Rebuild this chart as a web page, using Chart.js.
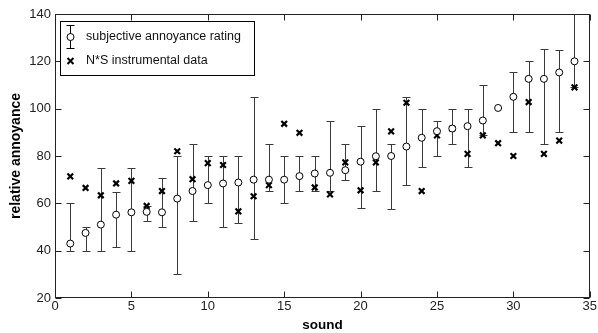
<!DOCTYPE html>
<html>
<head>
<meta charset="utf-8">
<script src="https://cdn.jsdelivr.net/npm/chart.js@4/dist/chart.umd.min.js"></script>
<style>
  html, body { margin: 0; padding: 0; background: #fff; }
  #wrap { width: 598px; height: 333px; }
</style>
</head>
<body>
<div id="wrap"><canvas id="annoyChart"></canvas></div>
<script>
// data
const sounds = [1, 2, 3, 4, 5, 6, 7, 8, 9, 10, 11, 12, 13, 14, 15, 16, 17, 18, 19, 20, 21, 22, 23, 24, 25, 26, 27, 28, 29, 30, 31, 32, 33, 34];
const rating = [43, 47.5, 51, 55.2, 56.2, 56.4, 56.2, 62, 65.2, 67.7, 68.4, 68.8, 70, 70, 70, 71.5, 72.6, 72.9, 74, 77.6, 79.9, 80, 84, 87.7, 90.5, 91.6, 92.6, 95, 100.3, 105, 112.6, 112.6, 115.3, 120];
const ratingLow = [40, 40, 40, 41.4, 40, 52.5, 50, 30, 52.5, 60, 50, 51.5, 45, 65.2, 60, 65.2, 65.2, 65.2, 70, 58.2, 65.2, 57.4, 67.8, 75.2, 80, 85.1, 75.2, 88.7, 100.3, 90.1, 90, 85.1, 90, 109];
const ratingHigh = [60, 50, 75, 65, 75, 59, 70.5, 80, 85.1, 80, 80, 80, 105, 85.1, 80, 80, 80, 95, 85.1, 92.5, 100, 85.1, 105, 100, 95, 100, 100, 110, 100.3, 115.3, 120, 125.1, 125, 145];
const nsData = [71.4, 66.5, 63.4, 68.4, 69.5, 58.9, 65.2, 82, 70.2, 77, 76.2, 56.6, 63, 67.7, 93.6, 89.8, 66.7, 63.8, 77.3, 65.5, 77.3, 90.4, 102.5, 65.2, 88.7, 91.6, 80.9, 88.7, 85.4, 80, 102.8, 80.9, 86.5, 109];
const xTicks = [0, 5, 10, 15, 20, 25, 30, 35];
const yTicks = [20, 40, 60, 80, 100, 120, 140];

const ratingPoints = sounds.map((s, i) => ({ x: s, y: rating[i], lo: ratingLow[i], hi: ratingHigh[i] }));
const nsPoints = sounds.map((s, i) => ({ x: s, y: nsData[i] }));

const font = "Arial, 'Liberation Sans', sans-serif";

// error bars, drawn under the markers
const errorBars = {
  id: 'errorBars',
  beforeDatasetsDraw(chart) {
    const ctx = chart.ctx, xs = chart.scales.x, ys = chart.scales.y, a = chart.chartArea;
    ctx.save();
    ctx.beginPath();
    ctx.rect(a.left, a.top, a.right - a.left, a.bottom - a.top);
    ctx.clip();
    ctx.strokeStyle = '#3a3a3a';
    ctx.lineWidth = 1;
    ratingPoints.forEach(p => {
      if (p.hi === p.lo) return;
      const px = Math.round(xs.getPixelForValue(p.x)) + 0.5;
      const top = Math.round(ys.getPixelForValue(p.hi)) + 0.5;
      const bot = Math.round(ys.getPixelForValue(p.lo)) + 0.5;
      ctx.beginPath();
      ctx.moveTo(px, top); ctx.lineTo(px, bot);
      ctx.moveTo(px - 4, top); ctx.lineTo(px + 4, top);
      ctx.moveTo(px - 4, bot); ctx.lineTo(px + 4, bot);
      ctx.stroke();
    });
    ctx.restore();
  }
};

// box, inward ticks and the legend
const frame = {
  id: 'frame',
  afterDraw(chart) {
    const ctx = chart.ctx, xs = chart.scales.x, ys = chart.scales.y, a = chart.chartArea;
    ctx.save();
    ctx.strokeStyle = '#222';
    ctx.lineWidth = 1;
    const L = Math.round(a.left) + 0.5, R = Math.round(a.right) - 0.5;
    const T = Math.round(a.top) + 0.5, B = Math.round(a.bottom) - 0.5;
    ctx.strokeRect(L, T, R - L, B - T);
    ctx.beginPath();
    xTicks.forEach(v => {
      const px = Math.round(xs.getPixelForValue(v)) + 0.5;
      ctx.moveTo(px, B); ctx.lineTo(px, B - 6);
      ctx.moveTo(px, T); ctx.lineTo(px, T + 6);
    });
    yTicks.forEach(v => {
      const py = Math.round(ys.getPixelForValue(v)) + 0.5;
      ctx.moveTo(L, py); ctx.lineTo(L + 6, py);
      ctx.moveTo(R, py); ctx.lineTo(R - 6, py);
    });
    ctx.stroke();

    // legend
    ctx.strokeStyle = '#000';
    const lx = a.left + 5, ly = a.top + 7, lw = 194, lh = 54;
    ctx.fillStyle = '#fff';
    ctx.fillRect(lx, ly, lw, lh);
    ctx.strokeRect(Math.round(lx) + 0.5, Math.round(ly) + 0.5, lw, lh);
    const ix = Math.round(lx + 10) + 0.5;
    ctx.beginPath();
    ctx.moveTo(ix, ly + 4.5); ctx.lineTo(ix, ly + 28);
    ctx.moveTo(ix - 4, ly + 4.5); ctx.lineTo(ix + 4, ly + 4.5);
    ctx.moveTo(ix - 4, ly + 27.5); ctx.lineTo(ix + 4, ly + 27.5);
    ctx.stroke();
    ctx.beginPath();
    ctx.arc(ix, ly + 16, 3.5, 0, Math.PI * 2);
    ctx.fillStyle = '#fff';
    ctx.fill();
    ctx.stroke();
    ctx.beginPath();
    ctx.lineWidth = 2;
    const cy = ly + 40;
    ctx.moveTo(ix - 3, cy - 3); ctx.lineTo(ix + 3, cy + 3);
    ctx.moveTo(ix - 3, cy + 3); ctx.lineTo(ix + 3, cy - 3);
    ctx.stroke();
    ctx.fillStyle = '#111';
    ctx.font = '12.5px ' + font;
    ctx.textBaseline = 'middle';
    ctx.textAlign = 'left';
    ctx.fillText('subjective annoyance rating', lx + 26, ly + 16);
    ctx.fillText('N*S instrumental data', lx + 26, cy);
    ctx.restore();
  }
};

new Chart(document.getElementById('annoyChart'), {
  type: 'scatter',
  data: {
    datasets: [
      {
        label: 'subjective annoyance rating',
        data: ratingPoints,
        pointStyle: 'circle',
        pointRadius: 3.5,
        pointBackgroundColor: '#fff',
        pointBorderColor: '#000',
        pointBorderWidth: 1
      },
      {
        label: 'N*S instrumental data',
        data: nsPoints,
        pointStyle: 'crossRot',
        pointRadius: 4,
        pointBorderColor: '#000',
        pointBorderWidth: 2.2
      }
    ]
  },
  options: {
    responsive: true,
    maintainAspectRatio: false,
    animation: false,
    layout: { padding: { top: 14, right: 7, left: 0, bottom: 0 } },
    plugins: { legend: { display: false }, tooltip: { enabled: false } },
    scales: {
      x: {
        type: 'linear',
        min: 0, max: 35,
        afterBuildTicks: s => { s.ticks = xTicks.map(v => ({ value: v })); },
        afterFit: s => { s.height = 35; },
        grid: { display: false, drawTicks: false },
        border: { display: false },
        ticks: { color: '#222', font: { size: 13, family: font }, padding: 1, maxRotation: 0 },
        title: { display: true, text: 'sound', color: '#000', font: { size: 13.5, weight: 'bold', family: font }, padding: { top: 0, bottom: 0 } }
      },
      y: {
        type: 'linear',
        min: 20, max: 140,
        afterBuildTicks: s => { s.ticks = yTicks.map(v => ({ value: v })); },
        afterFit: s => { s.width = 55; },
        grid: { display: false, drawTicks: false },
        border: { display: false },
        ticks: { color: '#222', font: { size: 13, family: font }, padding: 4 },
        title: { display: true, text: 'relative annoyance', color: '#000', font: { size: 14, weight: 'bold', family: font }, padding: { top: 8, bottom: 0 } }
      }
    }
  },
  plugins: [errorBars, frame]
});
</script>
</body>
</html>
